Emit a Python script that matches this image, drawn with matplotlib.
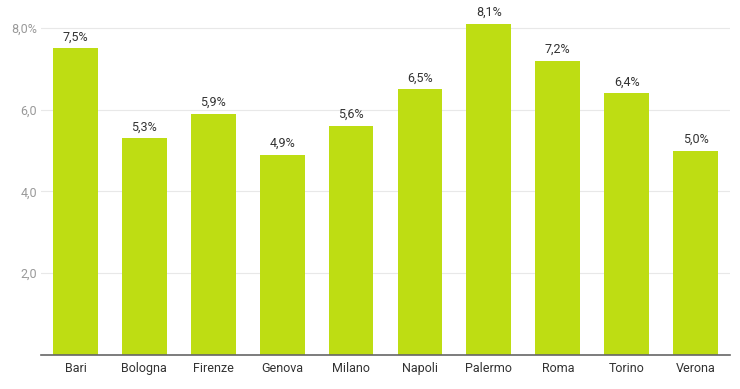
import matplotlib
matplotlib.use("Agg")
import matplotlib.pyplot as plt

plt.rcParams['font.family'] = ['Roboto', 'DejaVu Sans']

cities = ["Bari", "Bologna", "Firenze", "Genova", "Milano", "Napoli", "Palermo", "Roma", "Torino", "Verona"]
values = [7.5, 5.3, 5.9, 4.9, 5.6, 6.5, 8.1, 7.2, 6.4, 5.0]
yticks = [2, 4, 6, 8]
ytick_labels = ["2,0", "4,0", "6,0", "8,0%"]

W, H = 740, 389
fig = plt.figure(figsize=(W/100, H/100), dpi=100)
ax = fig.add_axes([41/W, (H-355)/H, (730-41)/W, 355/H])

x = range(len(cities))
ax.bar(x, values, width=0.65, color="#bedd13", zorder=2)
for xi, v in zip(x, values):
    ax.annotate(f"{v:.1f}%".replace(".", ","), (xi, v), xytext=(0, 3.5), textcoords="offset points",
                ha="center", va="bottom", fontsize=9, color="#333333")

ax.set_xlim(-0.5, len(cities) - 0.5)
ax.set_ylim(0, 355/40.9)
ax.set_yticks(yticks)
ax.set_yticklabels(ytick_labels)
ax.set_xticks(list(x))
ax.set_xticklabels(cities)
ax.tick_params(axis='y', length=0, pad=3, labelsize=9, labelcolor="#999999")
ax.tick_params(axis='x', length=0, pad=5, labelsize=9, labelcolor="#333333")
ax.yaxis.grid(True, color="#e8e8e8", linewidth=0.8, zorder=0)
for s in ["top", "right", "left"]:
    ax.spines[s].set_visible(False)
ax.spines["bottom"].set_color("#666666")
ax.spines["bottom"].set_linewidth(1.2)
ax.spines["bottom"].set_zorder(3)

fig.savefig("out.png", dpi=100)
